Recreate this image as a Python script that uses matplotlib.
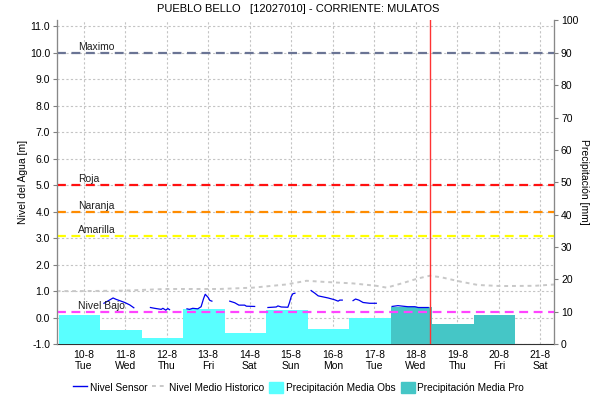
import matplotlib
matplotlib.use('Agg')
import matplotlib.pyplot as plt
import numpy as np
from matplotlib.lines import Line2D
from matplotlib.patches import Patch

plt.rcParams['font.family'] = ['Liberation Sans', 'DejaVu Sans']

nan = np.nan

# days of August 2021
tick_days = [10, 11, 12, 13, 14, 15, 16, 17, 18, 19, 20, 21]
tick_names = ['Tue', 'Wed', 'Thu', 'Fri', 'Sat', 'Sun', 'Mon', 'Tue', 'Wed', 'Thu', 'Fri', 'Sat']

# sensor level [m], NaN = gap
sensor_day = [10.49, 10.71, 10.78, 10.99, 11.11, 11.21, nan,
              11.61, 11.71, 11.87, 11.91, 11.98, 12.03, 12.07, nan,
              12.49, 12.55, 12.63, 12.75, 12.83, 12.89, 12.93, 13.0, 13.04, 13.09, nan,
              13.52, 13.64, 13.74, 13.88, 13.92, 14.12, nan,
              14.44, 14.64, 14.68, 14.76, 14.92, 14.96, 15.0, 15.04, 15.09, nan,
              15.48, 15.57, 15.65, 15.77, 15.89, 16.05, 16.13, 16.17, 16.23, nan,
              16.49, 16.55, 16.63, 16.73, 16.89, 17.05, nan,
              17.43, 17.57, 17.81, 17.98, 18.06, 18.3]
sensor_val = [0.54, 0.74, 0.69, 0.57, 0.48, 0.37, nan,
              0.38, 0.35, 0.31, 0.35, 0.28, 0.34, 0.30, nan,
              0.33, 0.31, 0.35, 0.33, 0.41, 0.72, 0.88, 0.76, 0.65, 0.62, nan,
              0.62, 0.56, 0.47, 0.47, 0.43, 0.42, nan,
              0.38, 0.40, 0.44, 0.40, 0.39, 0.57, 0.79, 0.90, 0.92, nan,
              1.02, 0.92, 0.82, 0.78, 0.74, 0.67, 0.62, 0.66, 0.66, nan,
              0.64, 0.70, 0.66, 0.57, 0.54, 0.54, nan,
              0.42, 0.45, 0.41, 0.41, 0.38, 0.38]

# historical mean level [m]
hist_day = [9.35, 10.0, 11.0, 12.0, 13.28, 14.08, 14.88, 15.37, 15.77, 16.49,
            17.05, 17.3, 17.66, 18.06, 18.34, 18.62, 19.1, 19.5, 20.06, 20.87, 21.35]
hist_val = [1.0, 1.0, 1.02, 1.08, 1.08, 1.13, 1.25, 1.39, 1.35, 1.29,
            1.2, 1.13, 1.29, 1.48, 1.58, 1.52, 1.35, 1.23, 1.19, 1.2, 1.25]

# daily precipitation [mm]
obs_start = [9.4, 10.4, 11.4, 12.4, 13.4, 14.4, 15.4, 16.4]
obs_val = [8.9, 4.4, 1.9, 10.8, 3.5, 10.5, 4.7, 8.1]
pro_start = [17.4, 18.4, 19.4]
pro_val = [11.4, 6.2, 8.9]

# thresholds [m]
thr_names = ['Maximo', 'Roja', 'Naranja', 'Amarilla', 'Nivel Bajo']
thr_levels = [10.0, 5.0, 4.0, 3.08, 0.22]
thr_colors = ['#6a7494', '#ff1010', '#ff8c00', '#ffff00', '#ff44ff']

now_day = 18.35

fig = plt.figure(figsize=(5.97, 4.01), dpi=100)
rect = [0.0955, 0.142, 0.8325, 0.807]

ax = fig.add_axes(rect)          # grid + left ticks
ax2 = ax.twinx()                 # precipitation bars
ax3 = ax.twinx()                 # lines on top
ax2.set_zorder(ax.get_zorder() + 1)
ax3.set_zorder(ax.get_zorder() + 2)
for a in (ax2, ax3):
    a.patch.set_visible(False)

xlim = (9.36, 21.33)
ylim = (-1.0, 11.22)
ax.set_xlim(*xlim)
ax.set_ylim(*ylim)
ax3.set_ylim(*ylim)
ax2.set_ylim(0, 100)

ax.set_yticks(np.arange(-1, 12, 1))
ax.set_yticklabels(['%.1f' % v for v in np.arange(-1, 12, 1)])
ax.set_xticks(tick_days)
ax.set_xticklabels(['%d-8\n%s' % (d, n) for d, n in zip(tick_days, tick_names)])
ax.grid(True, color='#c4c4c4', linestyle=(0, (2, 2)), linewidth=0.8)
ax2.set_yticks(np.arange(0, 101, 10))
ax3.set_yticks([])

ax.tick_params(axis='x', length=0, labelsize=7.5, pad=4)
ax.tick_params(axis='y', length=3, color='#808080', labelsize=7.5, pad=2)
ax2.tick_params(axis='y', length=3, color='#808080', labelsize=7.5, pad=2)

for a in (ax, ax2, ax3):
    a.spines['top'].set_visible(False)
    for s in ('left', 'right'):
        a.spines[s].set_color('#888888')
    a.spines['bottom'].set_visible(False)
ax.spines['bottom'].set_visible(True)
ax.spines['bottom'].set_linestyle((0, (1, 1)))
ax.spines['bottom'].set_color('#333333')

ax2.bar(obs_start, obs_val, width=1.0, align='edge', color='#59ffff', linewidth=0)
ax2.bar(pro_start, pro_val, width=1.0, align='edge', color='#45c6c6', linewidth=0)

ax3.plot(hist_day, hist_val, color='#c8c8c8', linestyle=(0, (2, 2)), linewidth=1.4)
for name, lev, col in zip(thr_names, thr_levels, thr_colors):
    ax3.axhline(lev, color=col, linestyle=(0, (4, 2.5)), linewidth=1.6)
    ax3.text(9.86, lev + 0.04, name, fontsize=7.5, ha='left', va='bottom', color='#202020')
ax3.plot(sensor_day, sensor_val, color='#0000ee', linewidth=0.9)
ax3.axvline(now_day, color='#ff3333', linewidth=1.0)
ax3.set_xlim(*xlim)

ax.set_ylabel('Nivel del Agua [m]', fontsize=7.5, labelpad=1)
ax2.set_ylabel('Precipitación [mm]', fontsize=7.5, rotation=270, labelpad=8)
fig.text(0.5, 0.977, 'PUEBLO BELLO   [12027010] - CORRIENTE: MULATOS',
         ha='center', va='center', fontsize=8)

handles = [Line2D([], [], color='#0000ee', linewidth=1.0),
           Line2D([], [], color='#c8c8c8', linestyle=(0, (2, 2)), linewidth=1.4),
           Patch(color='#59ffff'), Patch(color='#45c6c6')]
labels = ['Nivel Sensor', 'Nivel Medio Historico', 'Precipitación Media Obs', 'Precipitación Media Pro']
fig.legend(handles, labels, loc='center', bbox_to_anchor=(0.5, 0.034), ncol=4,
           frameon=False, fontsize=7.3, handlelength=1.4, handletextpad=0.25,
           columnspacing=0.5, handleheight=1.4)

fig.savefig('out.png', dpi=100)
